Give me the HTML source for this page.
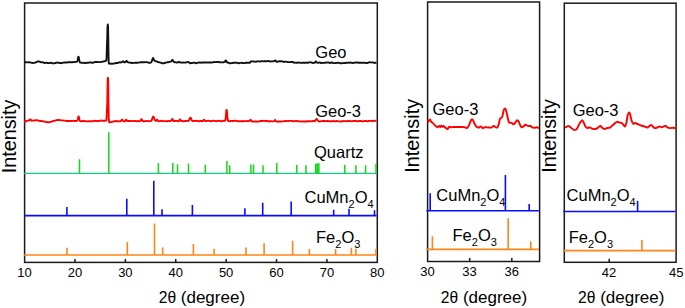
<!DOCTYPE html>
<html><head><meta charset="utf-8"><style>
html,body{margin:0;padding:0;background:#fff;width:685px;height:308px;overflow:hidden}
svg{display:block}
text{font-family:"Liberation Sans", sans-serif;fill:#000}
</style></head><body>
<svg width="685" height="308" viewBox="0 0 685 308">
<rect x="24.6" y="3.0" width="352.70" height="259.40" fill="none" stroke="#1a1a1a" stroke-width="1.5"/>
<path d="M74.99 262.4 V258.90 M125.37 262.4 V258.90 M175.76 262.4 V258.90 M226.14 262.4 V258.90 M276.53 262.4 V258.90 M326.91 262.4 V258.90" stroke="#1a1a1a" stroke-width="1.5"/>
<polyline points="24.00,61.59 24.25,61.65 24.50,61.77 24.75,61.91 25.00,62.05 25.25,62.18 25.50,62.27 25.75,62.25 26.00,62.21 26.25,62.23 26.50,62.31 26.75,62.37 27.00,62.38 27.25,62.37 27.50,62.38 27.75,62.35 28.00,62.29 28.25,62.25 28.50,62.26 28.75,62.30 29.00,62.31 29.25,62.27 29.50,62.25 29.75,62.32 30.00,62.46 30.25,62.58 30.50,62.62 30.75,62.60 31.00,62.59 31.25,62.64 31.50,62.68 31.75,62.72 32.00,62.83 32.25,62.95 32.50,63.01 32.75,62.98 33.00,62.88 33.25,62.86 33.50,62.89 33.75,62.91 34.00,62.86 34.25,62.78 34.50,62.71 34.75,62.68 35.00,62.67 35.25,62.64 35.50,62.55 35.75,62.44 36.00,62.36 36.25,62.25 36.50,62.10 36.75,61.93 37.00,61.76 37.25,61.61 37.50,61.52 37.75,61.53 38.00,61.50 38.25,61.41 38.50,61.35 38.75,61.37 39.00,61.44 39.25,61.53 39.50,61.61 39.75,61.72 40.00,61.87 40.25,62.02 40.50,62.09 40.75,62.15 41.00,62.25 41.25,62.33 41.50,62.37 41.75,62.32 42.00,62.25 42.25,62.22 42.50,62.23 42.75,62.25 43.00,62.32 43.25,62.41 43.50,62.51 43.75,62.63 44.00,62.81 44.25,62.96 44.50,63.00 44.75,62.99 45.00,62.93 45.25,62.87 45.50,62.81 45.75,62.76 46.00,62.69 46.25,62.63 46.50,62.66 46.75,62.75 47.00,62.84 47.25,62.92 47.50,62.99 47.75,63.03 48.00,63.02 48.25,62.99 48.50,63.00 48.75,63.06 49.00,63.12 49.25,63.16 49.50,63.14 49.75,63.08 50.00,63.01 50.25,62.93 50.50,62.84 50.75,62.77 51.00,62.75 51.25,62.75 51.50,62.82 51.75,62.98 52.00,63.13 52.25,63.22 52.50,63.27 52.75,63.32 53.00,63.36 53.25,63.40 53.50,63.40 53.75,63.34 54.00,63.29 54.25,63.27 54.50,63.24 54.75,63.21 55.00,63.17 55.25,63.12 55.50,63.02 55.75,62.89 56.00,62.80 56.25,62.75 56.50,62.67 56.75,62.57 57.00,62.56 57.25,62.63 57.50,62.70 57.75,62.69 58.00,62.62 58.25,62.59 58.50,62.64 58.75,62.72 59.00,62.80 59.25,62.91 59.50,63.05 59.75,63.08 60.00,63.01 60.25,62.94 60.50,62.97 60.75,63.04 61.00,63.10 61.25,63.14 61.50,63.22 61.75,63.24 62.00,63.13 62.25,62.96 62.50,62.82 62.75,62.72 63.00,62.63 63.25,62.59 63.50,62.57 63.75,62.54 64.00,62.51 64.25,62.48 64.50,62.46 64.75,62.45 65.00,62.50 65.25,62.55 65.50,62.54 65.75,62.48 66.00,62.45 66.25,62.51 66.50,62.61 66.75,62.62 67.00,62.51 67.25,62.38 67.50,62.30 67.75,62.30 68.00,62.31 68.25,62.29 68.50,62.28 68.75,62.29 69.00,62.27 69.25,62.21 69.50,62.18 69.75,62.18 70.00,62.16 70.25,62.17 70.50,62.20 70.75,62.25 71.00,62.27 71.25,62.24 71.50,62.20 71.75,62.20 72.00,62.26 72.25,62.30 72.50,62.27 72.75,62.18 73.00,62.13 73.25,62.11 73.50,62.08 73.75,62.04 74.00,62.08 74.25,62.14 74.50,62.10 74.75,61.98 75.00,61.88 75.25,61.86 75.50,61.88 75.75,61.89 76.00,61.86 76.25,61.82 76.50,61.78 76.75,61.76 77.00,61.62 77.25,61.27 77.50,60.53 77.75,59.38 78.00,58.03 78.25,57.00 78.50,56.67 78.75,57.21 79.00,58.48 79.25,59.96 79.50,61.21 79.75,62.04 80.00,62.50 80.25,62.65 80.50,62.63 80.75,62.63 81.00,62.67 81.25,62.71 81.50,62.74 81.75,62.82 82.00,62.87 82.25,62.86 82.50,62.87 82.75,62.86 83.00,62.80 83.25,62.72 83.50,62.68 83.75,62.72 84.00,62.82 84.25,62.93 84.50,63.03 84.75,63.12 85.00,63.17 85.25,63.13 85.50,63.05 85.75,63.01 86.00,62.98 86.25,62.94 86.50,62.88 86.75,62.81 87.00,62.77 87.25,62.75 87.50,62.74 87.75,62.73 88.00,62.70 88.25,62.68 88.50,62.66 88.75,62.66 89.00,62.62 89.25,62.57 89.50,62.56 89.75,62.54 90.00,62.45 90.25,62.34 90.50,62.30 90.75,62.37 91.00,62.49 91.25,62.61 91.50,62.70 91.75,62.77 92.00,62.78 92.25,62.80 92.50,62.80 92.75,62.75 93.00,62.65 93.25,62.57 93.50,62.53 93.75,62.50 94.00,62.44 94.25,62.34 94.50,62.22 94.75,62.09 95.00,61.98 95.25,61.90 95.50,61.88 95.75,61.94 96.00,62.01 96.25,62.04 96.50,62.06 96.75,62.07 97.00,62.04 97.25,61.96 97.50,61.94 97.75,61.98 98.00,62.02 98.25,62.07 98.50,62.12 98.75,62.15 99.00,62.14 99.25,62.13 99.50,62.11 99.75,62.10 100.00,62.08 100.25,62.06 100.50,62.01 100.75,61.94 101.00,61.91 101.25,61.89 101.50,61.86 101.75,61.85 102.00,61.85 102.25,61.85 102.50,61.79 102.75,61.68 103.00,61.55 103.25,61.45 103.50,61.40 103.75,61.37 104.00,61.31 104.25,61.24 104.50,61.22 104.75,61.15 105.00,61.08 105.25,61.00 105.50,60.95 105.75,60.89 106.00,60.76 106.25,60.52 106.50,58.97 106.75,52.42 107.00,44.08 107.25,37.21 107.50,26.85 107.75,24.52 108.00,25.91 108.25,35.61 108.50,55.12 108.75,62.85 109.00,63.64 109.25,63.56 109.50,63.55 109.75,63.60 110.00,63.66 110.25,63.68 110.50,63.72 110.75,63.73 111.00,63.68 111.25,63.60 111.50,63.57 111.75,63.65 112.00,63.77 112.25,63.81 112.50,63.71 112.75,63.59 113.00,63.55 113.25,63.58 113.50,63.61 113.75,63.60 114.00,63.59 114.25,63.58 114.50,63.52 114.75,63.43 115.00,63.34 115.25,63.23 115.50,63.10 115.75,63.03 116.00,62.98 116.25,62.94 116.50,62.92 116.75,62.95 117.00,62.98 117.25,62.98 117.50,63.00 117.75,62.99 118.00,62.88 118.25,62.69 118.50,62.53 118.75,62.47 119.00,62.47 119.25,62.45 119.50,62.37 119.75,62.27 120.00,62.26 120.25,62.37 120.50,62.47 120.75,62.46 121.00,62.35 121.25,62.28 121.50,62.28 121.75,62.25 122.00,62.10 122.25,61.85 122.50,61.59 122.75,61.36 123.00,61.28 123.25,61.42 123.50,61.71 123.75,62.02 124.00,62.25 124.25,62.38 124.50,62.43 124.75,62.40 125.00,62.33 125.25,62.18 125.50,61.96 125.75,61.65 126.00,61.30 126.25,61.03 126.50,60.91 126.75,61.00 127.00,61.31 127.25,61.70 127.50,62.03 127.75,62.20 128.00,62.26 128.25,62.28 128.50,62.34 128.75,62.43 129.00,62.48 129.25,62.54 129.50,62.58 129.75,62.63 130.00,62.63 130.25,62.63 130.50,62.66 130.75,62.68 131.00,62.71 131.25,62.77 131.50,62.91 131.75,63.00 132.00,63.00 132.25,62.98 132.50,62.99 132.75,62.96 133.00,62.91 133.25,62.88 133.50,62.87 133.75,62.86 134.00,62.85 134.25,62.87 134.50,62.89 134.75,62.86 135.00,62.80 135.25,62.75 135.50,62.74 135.75,62.72 136.00,62.70 136.25,62.68 136.50,62.67 136.75,62.68 137.00,62.69 137.25,62.70 137.50,62.71 137.75,62.69 138.00,62.64 138.25,62.62 138.50,62.64 138.75,62.64 139.00,62.57 139.25,62.49 139.50,62.44 139.75,62.42 140.00,62.41 140.25,62.40 140.50,62.34 140.75,62.26 141.00,62.24 141.25,62.27 141.50,62.30 141.75,62.31 142.00,62.30 142.25,62.30 142.50,62.31 142.75,62.32 143.00,62.33 143.25,62.32 143.50,62.29 143.75,62.24 144.00,62.22 144.25,62.23 144.50,62.20 144.75,62.14 145.00,62.10 145.25,62.10 145.50,62.10 145.75,62.11 146.00,62.12 146.25,62.15 146.50,62.17 146.75,62.20 147.00,62.23 147.25,62.31 147.50,62.39 147.75,62.45 148.00,62.50 148.25,62.57 148.50,62.65 148.75,62.70 149.00,62.74 149.25,62.78 149.50,62.82 149.75,62.86 150.00,62.86 150.25,62.81 150.50,62.72 150.75,62.56 151.00,62.39 151.25,62.18 151.50,61.84 151.75,61.35 152.00,60.67 152.25,59.84 152.50,58.96 152.75,58.29 153.00,58.01 153.25,58.17 153.50,58.65 153.75,59.27 154.00,59.90 154.25,60.39 154.50,60.69 154.75,60.84 155.00,60.90 155.25,61.03 155.50,61.14 155.75,61.22 156.00,61.31 156.25,61.39 156.50,61.45 156.75,61.52 157.00,61.61 157.25,61.69 157.50,61.79 157.75,61.94 158.00,62.03 158.25,62.07 158.50,62.14 158.75,62.25 159.00,62.35 159.25,62.39 159.50,62.38 159.75,62.39 160.00,62.47 160.25,62.55 160.50,62.62 160.75,62.70 161.00,62.81 161.25,62.89 161.50,62.99 161.75,63.12 162.00,63.23 162.25,63.18 162.50,63.14 162.75,63.19 163.00,63.29 163.25,63.37 163.50,63.37 163.75,63.33 164.00,63.25 164.25,63.11 164.50,62.94 164.75,62.82 165.00,62.81 165.25,62.77 165.50,62.72 165.75,62.69 166.00,62.66 166.25,62.60 166.50,62.49 166.75,62.38 167.00,62.32 167.25,62.32 167.50,62.32 167.75,62.30 168.00,62.28 168.25,62.24 168.50,62.16 168.75,62.09 169.00,62.01 169.25,61.94 169.50,61.87 169.75,61.79 170.00,61.72 170.25,61.67 170.50,61.62 170.75,61.56 171.00,61.46 171.25,61.34 171.50,61.06 171.75,60.66 172.00,60.19 172.25,59.84 172.50,59.82 172.75,60.16 173.00,60.67 173.25,61.15 173.50,61.49 173.75,61.70 174.00,61.86 174.25,62.02 174.50,62.15 174.75,62.26 175.00,62.37 175.25,62.39 175.50,62.34 175.75,62.29 176.00,62.34 176.25,62.47 176.50,62.60 176.75,62.65 177.00,62.67 177.25,62.63 177.50,62.52 177.75,62.33 178.00,62.16 178.25,62.04 178.50,61.98 178.75,61.96 179.00,61.97 179.25,62.02 179.50,62.13 179.75,62.31 180.00,62.47 180.25,62.52 180.50,62.45 180.75,62.39 181.00,62.44 181.25,62.56 181.50,62.63 181.75,62.63 182.00,62.61 182.25,62.60 182.50,62.59 182.75,62.58 183.00,62.58 183.25,62.55 183.50,62.51 183.75,62.53 184.00,62.61 184.25,62.65 184.50,62.64 184.75,62.62 185.00,62.60 185.25,62.53 185.50,62.42 185.75,62.39 186.00,62.45 186.25,62.44 186.50,62.37 186.75,62.29 187.00,62.21 187.25,62.11 187.50,61.97 187.75,61.83 188.00,61.90 188.25,62.03 188.50,62.17 188.75,62.30 189.00,62.43 189.25,62.59 189.50,62.81 189.75,63.05 190.00,63.24 190.25,63.24 190.50,63.24 190.75,63.21 191.00,63.12 191.25,63.04 191.50,63.02 191.75,63.05 192.00,63.05 192.25,63.01 192.50,62.94 192.75,62.88 193.00,62.79 193.25,62.69 193.50,62.62 193.75,62.59 194.00,62.58 194.25,62.60 194.50,62.66 194.75,62.74 195.00,62.90 195.25,63.09 195.50,63.22 195.75,63.23 196.00,63.21 196.25,63.17 196.50,63.03 196.75,62.88 197.00,62.81 197.25,62.83 197.50,62.86 197.75,62.83 198.00,62.75 198.25,62.67 198.50,62.59 198.75,62.50 199.00,62.44 199.25,62.44 199.50,62.48 199.75,62.52 200.00,62.55 200.25,62.58 200.50,62.62 200.75,62.68 201.00,62.73 201.25,62.70 201.50,62.60 201.75,62.53 202.00,62.52 202.25,62.54 202.50,62.54 202.75,62.55 203.00,62.56 203.25,62.54 203.50,62.48 203.75,62.40 204.00,62.38 204.25,62.43 204.50,62.49 204.75,62.49 205.00,62.48 205.25,62.47 205.50,62.47 205.75,62.49 206.00,62.50 206.25,62.46 206.50,62.40 206.75,62.39 207.00,62.42 207.25,62.45 207.50,62.46 207.75,62.48 208.00,62.51 208.25,62.51 208.50,62.48 208.75,62.46 209.00,62.48 209.25,62.52 209.50,62.53 209.75,62.50 210.00,62.45 210.25,62.42 210.50,62.45 210.75,62.50 211.00,62.50 211.25,62.50 211.50,62.49 211.75,62.46 212.00,62.43 212.25,62.41 212.50,62.39 212.75,62.40 213.00,62.38 213.25,62.30 213.50,62.17 213.75,62.08 214.00,62.01 214.25,61.96 214.50,61.95 214.75,62.00 215.00,62.05 215.25,62.08 215.50,62.09 215.75,62.10 216.00,62.10 216.25,62.07 216.50,62.04 216.75,62.01 217.00,61.98 217.25,61.95 217.50,61.93 217.75,61.91 218.00,61.90 218.25,61.92 218.50,61.95 218.75,62.02 219.00,62.15 219.25,62.25 219.50,62.23 219.75,62.15 220.00,62.12 220.25,62.20 220.50,62.31 220.75,62.37 221.00,62.37 221.25,62.35 221.50,62.34 221.75,62.37 222.00,62.40 222.25,62.38 222.50,62.34 222.75,62.31 223.00,62.31 223.25,62.33 223.50,62.34 223.75,62.27 224.00,62.14 224.25,62.09 224.50,62.04 224.75,61.86 225.00,61.50 225.25,61.01 225.50,60.58 225.75,60.37 226.00,60.50 226.25,60.94 226.50,61.53 226.75,62.03 227.00,62.35 227.25,62.48 227.50,62.51 227.75,62.52 228.00,62.57 228.25,62.66 228.50,62.77 228.75,62.84 229.00,62.92 229.25,63.05 229.50,63.21 229.75,63.31 230.00,63.31 230.25,63.30 230.50,63.27 230.75,63.23 231.00,63.19 231.25,63.17 231.50,63.17 231.75,63.14 232.00,63.07 232.25,63.02 232.50,62.98 232.75,62.91 233.00,62.85 233.25,62.84 233.50,62.82 233.75,62.78 234.00,62.76 234.25,62.76 234.50,62.77 234.75,62.77 235.00,62.75 235.25,62.71 235.50,62.70 235.75,62.68 236.00,62.66 236.25,62.65 236.50,62.62 236.75,62.63 237.00,62.72 237.25,62.86 237.50,62.99 237.75,63.12 238.00,63.23 238.25,63.26 238.50,63.26 238.75,63.23 239.00,63.16 239.25,63.08 239.50,63.01 239.75,62.95 240.00,62.91 240.25,62.87 240.50,62.87 240.75,62.91 241.00,62.92 241.25,62.86 241.50,62.78 241.75,62.77 242.00,62.84 242.25,62.95 242.50,63.04 242.75,63.06 243.00,63.07 243.25,63.11 243.50,63.14 243.75,63.14 244.00,63.12 244.25,63.10 244.50,63.08 244.75,63.00 245.00,62.90 245.25,62.85 245.50,62.81 245.75,62.75 246.00,62.71 246.25,62.72 246.50,62.75 246.75,62.74 247.00,62.73 247.25,62.73 247.50,62.74 247.75,62.73 248.00,62.73 248.25,62.71 248.50,62.67 248.75,62.67 249.00,62.75 249.25,62.85 249.50,62.92 249.75,62.89 250.00,62.53 250.25,62.14 250.50,61.72 250.75,61.51 251.00,61.47 251.25,61.47 251.50,61.46 251.75,61.42 252.00,61.38 252.25,61.37 252.50,61.39 252.75,61.42 253.00,61.44 253.25,61.47 253.50,61.48 253.75,61.49 254.00,61.52 254.25,61.56 254.50,61.61 254.75,61.63 255.00,61.65 255.25,61.68 255.50,61.69 255.75,61.67 256.00,61.62 256.25,61.56 256.50,61.52 256.75,61.49 257.00,61.49 257.25,61.47 257.50,61.45 257.75,61.42 258.00,61.39 258.25,61.34 258.50,61.31 258.75,61.32 259.00,61.36 259.25,61.38 259.50,61.40 259.75,61.42 260.00,61.44 260.25,61.47 260.50,61.49 260.75,61.44 261.00,61.36 261.25,61.27 261.50,61.20 261.75,61.16 262.00,61.14 262.25,61.15 262.50,61.18 262.75,61.22 263.00,61.28 263.25,61.33 263.50,61.36 263.75,61.34 264.00,61.32 264.25,61.31 264.50,61.28 264.75,61.26 265.00,61.26 265.25,61.25 265.50,61.24 265.75,61.25 266.00,61.27 266.25,61.26 266.50,61.24 266.75,61.22 267.00,61.21 267.25,61.16 267.50,61.12 267.75,61.09 268.00,61.03 268.25,60.98 268.50,61.00 268.75,61.07 269.00,61.14 269.25,61.19 269.50,61.25 269.75,61.35 270.00,61.46 270.25,61.55 270.50,61.58 270.75,61.53 271.00,61.45 271.25,61.41 271.50,61.41 271.75,61.41 272.00,61.39 272.25,61.42 272.50,61.42 272.75,61.37 273.00,61.30 273.25,61.24 273.50,61.20 273.75,61.16 274.00,61.13 274.25,61.11 274.50,61.05 274.75,60.90 275.00,60.67 275.25,60.51 275.50,60.55 275.75,60.76 276.00,61.03 276.25,61.31 276.50,61.57 276.75,61.72 277.00,61.78 277.25,61.79 277.50,61.77 277.75,61.67 278.00,61.54 278.25,61.43 278.50,61.35 278.75,61.30 279.00,61.28 279.25,61.27 279.50,61.27 279.75,61.25 280.00,61.21 280.25,61.20 280.50,61.21 280.75,61.22 281.00,61.25 281.25,61.35 281.50,61.45 281.75,61.47 282.00,61.42 282.25,61.39 282.50,61.39 282.75,61.42 283.00,61.48 283.25,61.63 283.50,61.82 283.75,61.94 284.00,61.96 284.25,61.93 284.50,61.88 284.75,61.80 285.00,61.71 285.25,61.64 285.50,61.60 285.75,61.60 286.00,61.63 286.25,61.72 286.50,61.82 286.75,61.87 287.00,61.89 287.25,61.93 287.50,62.01 287.75,62.08 288.00,62.10 288.25,62.11 288.50,62.12 288.75,62.13 289.00,62.15 289.25,62.17 289.50,62.15 289.75,62.07 290.00,62.03 290.25,62.05 290.50,62.09 290.75,62.12 291.00,62.10 291.25,62.05 291.50,62.03 291.75,62.03 292.00,62.04 292.25,62.01 292.50,61.96 292.75,61.96 293.00,62.07 293.25,62.26 293.50,62.44 293.75,62.58 294.00,62.70 294.25,62.76 294.50,62.73 294.75,62.67 295.00,62.64 295.25,62.62 295.50,62.61 295.75,62.63 296.00,62.73 296.25,62.81 296.50,62.79 296.75,62.74 297.00,62.69 297.25,62.69 297.50,62.70 297.75,62.71 298.00,62.64 298.25,62.53 298.50,62.49 298.75,62.56 299.00,62.64 299.25,62.64 299.50,62.63 299.75,62.65 300.00,62.71 300.25,62.73 300.50,62.77 300.75,62.82 301.00,62.86 301.25,62.86 301.50,62.87 301.75,62.87 302.00,62.84 302.25,62.80 302.50,62.77 302.75,62.73 303.00,62.66 303.25,62.62 303.50,62.66 303.75,62.74 304.00,62.79 304.25,62.77 304.50,62.72 304.75,62.68 305.00,62.73 305.25,62.78 305.50,62.76 305.75,62.66 306.00,62.58 306.25,62.57 306.50,62.64 306.75,62.72 307.00,62.75 307.25,62.77 307.50,62.79 307.75,62.80 308.00,62.79 308.25,62.74 308.50,62.63 308.75,62.50 309.00,62.40 309.25,62.36 309.50,62.34 309.75,62.33 310.00,62.30 310.25,62.29 310.50,62.32 310.75,62.35 311.00,62.37 311.25,62.42 311.50,62.51 311.75,62.60 312.00,62.65 312.25,62.71 312.50,62.81 312.75,62.92 313.00,63.00 313.25,62.99 313.50,62.92 313.75,62.86 314.00,62.86 314.25,62.88 314.50,62.84 314.75,62.71 315.00,62.47 315.25,62.13 315.50,61.77 315.75,61.51 316.00,61.48 316.25,61.62 316.50,61.87 316.75,62.16 317.00,62.44 317.25,62.64 317.50,62.77 317.75,62.87 318.00,62.92 318.25,62.89 318.50,62.80 318.75,62.71 319.00,62.64 319.25,62.57 319.50,62.51 319.75,62.47 320.00,62.48 320.25,62.55 320.50,62.71 320.75,62.86 321.00,62.96 321.25,63.07 321.50,63.12 321.75,63.06 322.00,62.96 322.25,62.90 322.50,62.86 322.75,62.81 323.00,62.80 323.25,62.87 323.50,62.93 323.75,62.90 324.00,62.87 324.25,62.84 324.50,62.80 324.75,62.80 325.00,62.80 325.25,62.77 325.50,62.71 325.75,62.67 326.00,62.62 326.25,62.57 326.50,62.56 326.75,62.61 327.00,62.65 327.25,62.61 327.50,62.48 327.75,62.38 328.00,62.38 328.25,62.45 328.50,62.51 328.75,62.55 329.00,62.60 329.25,62.71 329.50,62.86 329.75,62.99 330.00,63.04 330.25,63.02 330.50,62.94 330.75,62.83 331.00,62.69 331.25,62.56 331.50,62.47 331.75,62.43 332.00,62.46 332.25,62.56 332.50,62.68 332.75,62.81 333.00,62.97 333.25,63.11 333.50,63.13 333.75,63.11 334.00,63.09 334.25,63.11 334.50,63.15 334.75,63.18 335.00,63.17 335.25,63.13 335.50,63.07 335.75,63.06 336.00,63.06 336.25,63.03 336.50,62.95 336.75,62.89 337.00,62.87 337.25,62.86 337.50,62.84 337.75,62.79 338.00,62.78 338.25,62.77 338.50,62.76 338.75,62.80 339.00,62.88 339.25,62.92 339.50,62.91 339.75,62.96 340.00,63.10 340.25,63.21 340.50,63.23 340.75,63.25 341.00,63.27 341.25,63.27 341.50,63.22 341.75,63.18 342.00,63.18 342.25,63.17 342.50,63.14 342.75,63.11 343.00,63.09 343.25,63.07 343.50,63.08 343.75,63.11 344.00,63.10 344.25,63.02 344.50,62.93 344.75,62.91 345.00,62.94 345.25,62.97 345.50,62.96 345.75,62.93 346.00,62.91 346.25,62.84 346.50,62.75 346.75,62.70 347.00,62.77 347.25,62.86 347.50,62.86 347.75,62.76 348.00,62.65 348.25,62.64 348.50,62.65 348.75,62.66 349.00,62.68 349.25,62.73 349.50,62.74 349.75,62.67 350.00,62.58 350.25,62.54 350.50,62.57 350.75,62.64 351.00,62.70 351.25,62.74 351.50,62.78 351.75,62.85 352.00,62.92 352.25,62.95 352.50,62.94 352.75,62.96 353.00,62.95 353.25,62.92 353.50,62.90 353.75,62.88 354.00,62.79 354.25,62.66 354.50,62.61 354.75,62.57 355.00,62.54 355.25,62.53 355.50,62.62 355.75,62.68 356.00,62.64 356.25,62.52 356.50,62.45 356.75,62.45 357.00,62.47 357.25,62.48 357.50,62.50 357.75,62.54 358.00,62.62 358.25,62.70 358.50,62.77 358.75,62.81 359.00,62.81 359.25,62.78 359.50,62.76 359.75,62.78 360.00,62.76 360.25,62.72 360.50,62.71 360.75,62.71 361.00,62.71 361.25,62.73 361.50,62.76 361.75,62.80 362.00,62.83 362.25,62.84 362.50,62.81 362.75,62.77 363.00,62.73 363.25,62.66 363.50,62.61 363.75,62.61 364.00,62.63 364.25,62.66 364.50,62.74 364.75,62.85 365.00,62.94 365.25,62.97 365.50,62.99 365.75,62.98 366.00,62.93 366.25,62.89 366.50,62.88 366.75,62.86 367.00,62.84 367.25,62.90 367.50,63.00 367.75,62.98 368.00,62.83 368.25,62.65 368.50,62.50 368.75,62.36 369.00,62.27 369.25,62.27 369.50,62.31 369.75,62.35 370.00,62.38 370.25,62.39 370.50,62.41 370.75,62.41 371.00,62.40 371.25,62.41 371.50,62.38 371.75,62.34 372.00,62.34 372.25,62.38 372.50,62.41 372.75,62.44 373.00,62.51 373.25,62.61 373.50,62.69 373.75,62.75 374.00,62.80 374.25,62.86 374.50,62.93 374.75,62.93 375.00,62.85 375.25,62.76 375.50,62.72 375.75,62.73 376.00,62.74 376.25,62.71 376.50,62.66" fill="none" stroke="#111" stroke-width="1.9" stroke-linejoin="round"/>
<polyline points="24.00,121.47 24.25,121.50 24.50,121.54 24.75,121.54 25.00,121.51 25.25,121.47 25.50,121.43 25.75,121.41 26.00,121.34 26.25,121.21 26.50,121.04 26.75,120.87 27.00,120.75 27.25,120.70 27.50,120.68 27.75,120.61 28.00,120.53 28.25,120.48 28.50,120.47 28.75,120.45 29.00,120.41 29.25,120.32 29.50,120.15 29.75,119.87 30.00,119.55 30.25,119.34 30.50,119.33 30.75,119.56 31.00,119.94 31.25,120.34 31.50,120.61 31.75,120.70 32.00,120.67 32.25,120.60 32.50,120.57 32.75,120.60 33.00,120.62 33.25,120.60 33.50,120.56 33.75,120.53 34.00,120.51 34.25,120.51 34.50,120.48 34.75,120.45 35.00,120.43 35.25,120.38 35.50,120.30 35.75,120.23 36.00,120.20 36.25,120.19 36.50,120.18 36.75,120.21 37.00,120.23 37.25,120.31 37.50,120.37 37.75,120.42 38.00,120.46 38.25,120.55 38.50,120.68 38.75,120.76 39.00,120.79 39.25,120.81 39.50,120.85 39.75,120.93 40.00,121.00 40.25,121.04 40.50,121.05 40.75,121.08 41.00,121.09 41.25,121.05 41.50,121.02 41.75,121.05 42.00,121.11 42.25,121.13 42.50,121.15 42.75,121.20 43.00,121.26 43.25,121.33 43.50,121.40 43.75,121.48 44.00,121.53 44.25,121.58 44.50,121.62 44.75,121.65 45.00,121.68 45.25,121.73 45.50,121.78 45.75,121.83 46.00,121.90 46.25,121.98 46.50,122.06 46.75,122.09 47.00,122.13 47.25,122.22 47.50,122.28 47.75,122.27 48.00,122.22 48.25,122.19 48.50,122.17 48.75,122.18 49.00,122.22 49.25,122.21 49.50,122.16 49.75,122.09 50.00,122.03 50.25,121.99 50.50,121.94 50.75,121.89 51.00,121.82 51.25,121.76 51.50,121.67 51.75,121.52 52.00,121.39 52.25,121.28 52.50,121.18 52.75,121.10 53.00,121.06 53.25,121.03 53.50,120.97 53.75,120.89 54.00,120.80 54.25,120.74 54.50,120.70 54.75,120.66 55.00,120.61 55.25,120.57 55.50,120.51 55.75,120.45 56.00,120.41 56.25,120.36 56.50,120.28 56.75,120.17 57.00,120.09 57.25,120.03 57.50,120.03 57.75,120.01 58.00,119.94 58.25,119.90 58.50,119.93 58.75,119.97 59.00,120.00 59.25,120.06 59.50,120.14 59.75,120.18 60.00,120.15 60.25,120.13 60.50,120.18 60.75,120.28 61.00,120.37 61.25,120.41 61.50,120.40 61.75,120.38 62.00,120.38 62.25,120.38 62.50,120.38 62.75,120.43 63.00,120.52 63.25,120.57 63.50,120.60 63.75,120.64 64.00,120.66 64.25,120.65 64.50,120.64 64.75,120.65 65.00,120.62 65.25,120.64 65.50,120.72 65.75,120.82 66.00,120.91 66.25,120.97 66.50,121.00 66.75,121.00 67.00,121.02 67.25,121.04 67.50,121.02 67.75,120.99 68.00,120.98 68.25,120.98 68.50,120.98 68.75,120.98 69.00,121.00 69.25,121.03 69.50,121.06 69.75,121.05 70.00,121.02 70.25,121.00 70.50,121.02 70.75,121.04 71.00,121.01 71.25,121.01 71.50,121.03 71.75,121.03 72.00,120.99 72.25,120.95 72.50,120.90 72.75,120.80 73.00,120.74 73.25,120.76 73.50,120.81 73.75,120.85 74.00,120.90 74.25,120.96 74.50,121.00 74.75,120.98 75.00,120.95 75.25,120.95 75.50,121.00 75.75,121.03 76.00,120.99 76.25,120.92 76.50,120.87 76.75,120.85 77.00,120.80 77.25,120.60 77.50,120.11 77.75,119.26 78.00,118.15 78.25,117.09 78.50,116.47 78.75,116.58 79.00,117.42 79.25,118.64 79.50,119.81 79.75,120.63 80.00,121.10 80.25,121.27 80.50,121.28 80.75,121.25 81.00,121.24 81.25,121.23 81.50,121.20 81.75,121.15 82.00,121.10 82.25,121.07 82.50,121.07 82.75,121.05 83.00,121.00 83.25,120.99 83.50,120.99 83.75,120.97 84.00,120.96 84.25,121.02 84.50,121.14 84.75,121.26 85.00,121.32 85.25,121.34 85.50,121.33 85.75,121.32 86.00,121.30 86.25,121.28 86.50,121.28 86.75,121.30 87.00,121.32 87.25,121.33 87.50,121.35 87.75,121.35 88.00,121.32 88.25,121.29 88.50,121.27 88.75,121.24 89.00,121.22 89.25,121.24 89.50,121.31 89.75,121.36 90.00,121.34 90.25,121.28 90.50,121.23 90.75,121.23 91.00,121.25 91.25,121.24 91.50,121.21 91.75,121.18 92.00,121.17 92.25,121.17 92.50,121.17 92.75,121.17 93.00,121.18 93.25,121.18 93.50,121.15 93.75,121.07 94.00,121.01 94.25,120.98 94.50,120.96 94.75,120.91 95.00,120.84 95.25,120.78 95.50,120.76 95.75,120.82 96.00,120.90 96.25,120.99 96.50,121.09 96.75,121.17 97.00,121.19 97.25,121.15 97.50,121.12 97.75,121.07 98.00,120.99 98.25,120.96 98.50,120.98 98.75,121.02 99.00,121.01 99.25,120.96 99.50,120.88 99.75,120.78 100.00,120.69 100.25,120.62 100.50,120.58 100.75,120.56 101.00,120.60 101.25,120.67 101.50,120.76 101.75,120.83 102.00,120.80 102.25,120.73 102.50,120.71 102.75,120.78 103.00,120.86 103.25,120.85 103.50,120.81 103.75,120.79 104.00,120.77 104.25,120.74 104.50,120.71 104.75,120.69 105.00,120.69 105.25,120.68 105.50,120.66 105.75,120.66 106.00,120.65 106.25,120.64 106.50,119.37 106.75,114.34 107.00,107.86 107.25,103.84 107.50,90.13 107.75,78.24 108.00,77.87 108.25,82.86 108.50,105.03 108.75,117.88 109.00,121.58 109.25,122.31 109.50,122.36 109.75,122.34 110.00,122.33 110.25,122.32 110.50,122.26 110.75,122.19 111.00,122.14 111.25,122.11 111.50,122.04 111.75,121.89 112.00,121.72 112.25,121.61 112.50,121.59 112.75,121.61 113.00,121.60 113.25,121.57 113.50,121.55 113.75,121.52 114.00,121.47 114.25,121.40 114.50,121.33 114.75,121.25 115.00,121.16 115.25,121.09 115.50,121.03 115.75,121.00 116.00,120.99 116.25,121.01 116.50,121.07 116.75,121.21 117.00,121.35 117.25,121.38 117.50,121.31 117.75,121.24 118.00,121.23 118.25,121.23 118.50,121.23 118.75,121.26 119.00,121.31 119.25,121.33 119.50,121.34 119.75,121.33 120.00,121.28 120.25,121.21 120.50,121.13 120.75,121.07 121.00,120.98 121.25,120.77 121.50,120.40 121.75,119.94 122.00,119.64 122.25,119.70 122.50,120.07 122.75,120.53 123.00,120.87 123.25,121.07 123.50,121.18 123.75,121.24 124.00,121.27 124.25,121.29 124.50,121.31 124.75,121.30 125.00,121.19 125.25,120.95 125.50,120.58 125.75,120.13 126.00,119.74 126.25,119.63 126.50,119.90 126.75,120.38 127.00,120.76 127.25,120.93 127.50,120.97 127.75,121.01 128.00,121.06 128.25,121.08 128.50,121.05 128.75,121.02 129.00,120.99 129.25,120.95 129.50,120.91 129.75,120.90 130.00,120.93 130.25,120.97 130.50,120.99 130.75,121.01 131.00,121.03 131.25,121.04 131.50,121.07 131.75,121.12 132.00,121.14 132.25,121.11 132.50,121.10 132.75,121.12 133.00,121.11 133.25,121.07 133.50,121.02 133.75,120.97 134.00,120.92 134.25,120.87 134.50,120.86 134.75,120.89 135.00,120.93 135.25,121.01 135.50,121.10 135.75,121.15 136.00,121.19 136.25,121.24 136.50,121.27 136.75,121.23 137.00,121.18 137.25,121.14 137.50,121.07 137.75,120.97 138.00,120.91 138.25,120.95 138.50,121.03 138.75,121.13 139.00,121.20 139.25,121.25 139.50,121.27 139.75,121.24 140.00,121.13 140.25,120.89 140.50,120.55 140.75,120.10 141.00,119.61 141.25,119.22 141.50,119.15 141.75,119.46 142.00,120.00 142.25,120.55 142.50,120.94 142.75,121.17 143.00,121.28 143.25,121.31 143.50,121.30 143.75,121.28 144.00,121.28 144.25,121.29 144.50,121.26 144.75,121.18 145.00,121.09 145.25,121.08 145.50,121.13 145.75,121.16 146.00,121.12 146.25,121.05 146.50,121.02 146.75,121.04 147.00,121.07 147.25,121.09 147.50,121.10 147.75,121.12 148.00,121.12 148.25,121.11 148.50,121.11 148.75,121.11 149.00,121.10 149.25,121.10 149.50,121.13 149.75,121.18 150.00,121.20 150.25,121.14 150.50,121.04 150.75,120.95 151.00,120.90 151.25,120.79 151.50,120.53 151.75,120.09 152.00,119.49 152.25,118.78 152.50,118.02 152.75,117.32 153.00,116.80 153.25,116.59 153.50,116.71 153.75,117.10 154.00,117.72 154.25,118.43 154.50,119.12 154.75,119.70 155.00,120.15 155.25,120.46 155.50,120.66 155.75,120.78 156.00,120.81 156.25,120.70 156.50,120.43 156.75,120.03 157.00,119.69 157.25,119.61 157.50,119.88 157.75,120.36 158.00,120.81 158.25,121.08 158.50,121.20 158.75,121.28 159.00,121.31 159.25,121.26 159.50,121.14 159.75,121.04 160.00,121.06 160.25,121.11 160.50,121.11 160.75,121.01 161.00,120.89 161.25,120.81 161.50,120.76 161.75,120.75 162.00,120.78 162.25,120.85 162.50,120.94 162.75,121.03 163.00,121.09 163.25,121.12 163.50,121.15 163.75,121.18 164.00,121.20 164.25,121.17 164.50,121.12 164.75,121.10 165.00,121.12 165.25,121.15 165.50,121.16 165.75,121.17 166.00,121.18 166.25,121.21 166.50,121.29 166.75,121.35 167.00,121.34 167.25,121.28 167.50,121.20 167.75,121.07 168.00,120.94 168.25,120.85 168.50,120.84 168.75,120.88 169.00,120.94 169.25,121.03 169.50,121.13 169.75,121.19 170.00,121.17 170.25,121.13 170.50,121.08 170.75,120.98 171.00,120.83 171.25,120.61 171.50,120.25 171.75,119.72 172.00,119.19 172.25,118.94 172.50,119.13 172.75,119.72 173.00,120.36 173.25,120.80 173.50,121.00 173.75,121.05 174.00,121.04 174.25,121.00 174.50,120.95 174.75,120.93 175.00,120.94 175.25,120.94 175.50,120.89 175.75,120.83 176.00,120.82 176.25,120.86 176.50,120.91 176.75,120.91 177.00,120.89 177.25,120.90 177.50,120.94 177.75,121.00 178.00,121.07 178.25,121.16 178.50,121.24 178.75,121.18 179.00,120.91 179.25,120.41 179.50,119.83 179.75,119.41 180.00,119.34 180.25,119.61 180.50,120.08 180.75,120.51 181.00,120.77 181.25,120.88 181.50,120.94 181.75,121.00 182.00,121.05 182.25,121.06 182.50,121.10 182.75,121.17 183.00,121.21 183.25,121.24 183.50,121.25 183.75,121.26 184.00,121.25 184.25,121.20 184.50,121.14 184.75,121.07 185.00,121.01 185.25,120.96 185.50,120.95 185.75,120.95 186.00,120.94 186.25,120.92 186.50,120.91 186.75,120.93 187.00,120.95 187.25,120.93 187.50,120.88 187.75,120.87 188.00,120.92 188.25,120.94 188.50,120.87 188.75,120.66 189.00,120.29 189.25,119.78 189.50,119.15 189.75,118.50 190.00,117.98 190.25,117.66 190.50,117.61 190.75,117.84 191.00,118.27 191.25,118.83 191.50,119.47 191.75,120.10 192.00,120.58 192.25,120.85 192.50,120.96 192.75,120.99 193.00,120.98 193.25,120.94 193.50,120.88 193.75,120.86 194.00,120.88 194.25,120.88 194.50,120.84 194.75,120.83 195.00,120.90 195.25,121.03 195.50,121.10 195.75,121.06 196.00,120.96 196.25,120.91 196.50,120.88 196.75,120.84 197.00,120.82 197.25,120.84 197.50,120.87 197.75,120.90 198.00,120.95 198.25,121.02 198.50,121.11 198.75,121.22 199.00,121.28 199.25,121.27 199.50,121.23 199.75,121.16 200.00,121.07 200.25,120.99 200.50,120.92 200.75,120.86 201.00,120.85 201.25,120.92 201.50,121.03 201.75,121.15 202.00,121.24 202.25,121.27 202.50,121.24 202.75,121.15 203.00,120.96 203.25,120.64 203.50,120.24 203.75,119.92 204.00,119.81 204.25,119.92 204.50,120.18 204.75,120.50 205.00,120.80 205.25,121.03 205.50,121.14 205.75,121.16 206.00,121.14 206.25,121.11 206.50,121.05 206.75,120.97 207.00,120.93 207.25,120.91 207.50,120.88 207.75,120.80 208.00,120.73 208.25,120.75 208.50,120.79 208.75,120.82 209.00,120.84 209.25,120.86 209.50,120.88 209.75,120.93 210.00,121.00 210.25,121.07 210.50,121.15 210.75,121.22 211.00,121.24 211.25,121.20 211.50,121.13 211.75,121.05 212.00,120.97 212.25,120.90 212.50,120.84 212.75,120.82 213.00,120.81 213.25,120.81 213.50,120.81 213.75,120.82 214.00,120.85 214.25,120.89 214.50,120.90 214.75,120.90 215.00,120.93 215.25,120.99 215.50,121.06 215.75,121.12 216.00,121.16 216.25,121.21 216.50,121.21 216.75,121.13 217.00,121.01 217.25,120.95 217.50,120.92 217.75,120.91 218.00,120.92 218.25,120.95 218.50,120.98 218.75,120.93 219.00,120.85 219.25,120.78 219.50,120.78 219.75,120.85 220.00,120.96 220.25,121.03 220.50,121.09 220.75,121.17 221.00,121.28 221.25,121.34 221.50,121.31 221.75,121.26 222.00,121.18 222.25,121.07 222.50,120.92 222.75,120.82 223.00,120.82 223.25,120.86 223.50,120.88 223.75,120.85 224.00,120.82 224.25,120.80 224.50,120.77 224.75,120.72 225.00,120.61 225.25,120.31 225.50,119.44 225.75,117.57 226.00,114.73 226.25,111.70 226.50,109.82 226.75,110.08 227.00,112.33 227.25,115.43 227.50,118.13 227.75,119.85 228.00,120.67 228.25,120.96 228.50,121.06 228.75,121.15 229.00,121.22 229.25,121.24 229.50,121.22 229.75,121.20 230.00,121.17 230.25,121.11 230.50,121.03 230.75,120.94 231.00,120.87 231.25,120.82 231.50,120.85 231.75,120.91 232.00,120.94 232.25,120.97 232.50,121.00 232.75,121.02 233.00,121.02 233.25,121.00 233.50,120.96 233.75,120.89 234.00,120.82 234.25,120.78 234.50,120.75 234.75,120.73 235.00,120.75 235.25,120.79 235.50,120.84 235.75,120.85 236.00,120.85 236.25,120.89 236.50,120.91 236.75,120.92 237.00,120.99 237.25,121.12 237.50,121.22 237.75,121.20 238.00,121.13 238.25,121.11 238.50,121.17 238.75,121.25 239.00,121.26 239.25,121.23 239.50,121.21 239.75,121.21 240.00,121.23 240.25,121.26 240.50,121.24 240.75,121.17 241.00,121.14 241.25,121.17 241.50,121.21 241.75,121.22 242.00,121.24 242.25,121.28 242.50,121.26 242.75,121.17 243.00,121.08 243.25,121.07 243.50,121.08 243.75,121.09 244.00,121.12 244.25,121.16 244.50,121.18 244.75,121.18 245.00,121.17 245.25,121.15 245.50,121.14 245.75,121.11 246.00,121.10 246.25,121.13 246.50,121.16 246.75,121.15 247.00,121.08 247.25,121.01 247.50,121.02 247.75,121.08 248.00,121.11 248.25,121.07 248.50,121.03 248.75,121.00 249.00,120.92 249.25,120.80 249.50,120.69 249.75,120.56 250.00,120.33 250.25,120.02 250.50,119.80 250.75,119.87 251.00,120.26 251.25,120.75 251.50,121.13 251.75,121.36 252.00,121.47 252.25,121.52 252.50,121.50 252.75,121.46 253.00,121.46 253.25,121.51 253.50,121.59 253.75,121.62 254.00,121.61 254.25,121.52 254.50,121.48 254.75,121.44 255.00,121.41 255.25,121.43 255.50,121.50 255.75,121.54 256.00,121.56 256.25,121.57 256.50,121.58 256.75,121.55 257.00,121.51 257.25,121.51 257.50,121.55 257.75,121.60 258.00,121.64 258.25,121.68 258.50,121.70 258.75,121.62 259.00,121.47 259.25,121.33 259.50,121.24 259.75,121.16 260.00,121.07 260.25,120.98 260.50,120.93 260.75,120.94 261.00,120.97 261.25,121.00 261.50,121.04 261.75,121.06 262.00,121.05 262.25,121.03 262.50,121.00 262.75,120.95 263.00,120.89 263.25,120.83 263.50,120.79 263.75,120.78 264.00,120.78 264.25,120.81 264.50,120.86 264.75,120.90 265.00,120.94 265.25,120.98 265.50,121.01 265.75,121.02 266.00,121.02 266.25,120.99 266.50,120.96 266.75,120.94 267.00,120.93 267.25,120.93 267.50,120.99 267.75,121.09 268.00,121.18 268.25,121.28 268.50,121.39 268.75,121.49 269.00,121.51 269.25,121.42 269.50,121.27 269.75,121.16 270.00,121.09 270.25,121.03 270.50,121.03 270.75,121.12 271.00,121.23 271.25,121.29 271.50,121.33 271.75,121.37 272.00,121.39 272.25,121.36 272.50,121.34 272.75,121.35 273.00,121.36 273.25,121.35 273.50,121.33 273.75,121.30 274.00,121.23 274.25,121.06 274.50,120.74 274.75,120.35 275.00,120.07 275.25,120.07 275.50,120.33 275.75,120.70 276.00,121.03 276.25,121.28 276.50,121.47 276.75,121.59 277.00,121.66 277.25,121.70 277.50,121.70 277.75,121.66 278.00,121.60 278.25,121.55 278.50,121.51 278.75,121.47 279.00,121.46 279.25,121.46 279.50,121.45 279.75,121.48 280.00,121.54 280.25,121.56 280.50,121.58 280.75,121.62 281.00,121.63 281.25,121.52 281.50,121.42 281.75,121.39 282.00,121.41 282.25,121.41 282.50,121.38 282.75,121.36 283.00,121.34 283.25,121.33 283.50,121.31 283.75,121.29 284.00,121.22 284.25,121.12 284.50,121.08 284.75,121.09 285.00,121.10 285.25,121.06 285.50,120.99 285.75,120.93 286.00,120.91 286.25,120.92 286.50,120.95 286.75,121.02 287.00,121.09 287.25,121.13 287.50,121.12 287.75,121.10 288.00,121.06 288.25,121.01 288.50,120.96 288.75,120.92 289.00,120.89 289.25,120.87 289.50,120.86 289.75,120.87 290.00,120.90 290.25,120.92 290.50,120.91 290.75,120.91 291.00,120.85 291.25,120.83 291.50,120.85 291.75,120.93 292.00,121.02 292.25,121.05 292.50,121.07 292.75,121.10 293.00,121.13 293.25,121.17 293.50,121.20 293.75,121.22 294.00,121.22 294.25,121.24 294.50,121.20 294.75,121.11 295.00,121.03 295.25,120.97 295.50,120.92 295.75,120.88 296.00,120.86 296.25,120.89 296.50,120.96 296.75,121.06 297.00,121.15 297.25,121.19 297.50,121.23 297.75,121.25 298.00,121.24 298.25,121.21 298.50,121.21 298.75,121.28 299.00,121.35 299.25,121.35 299.50,121.35 299.75,121.37 300.00,121.40 300.25,121.43 300.50,121.47 300.75,121.48 301.00,121.45 301.25,121.44 301.50,121.42 301.75,121.41 302.00,121.41 302.25,121.40 302.50,121.39 302.75,121.41 303.00,121.48 303.25,121.54 303.50,121.55 303.75,121.56 304.00,121.57 304.25,121.56 304.50,121.52 304.75,121.50 305.00,121.54 305.25,121.59 305.50,121.59 305.75,121.55 306.00,121.51 306.25,121.50 306.50,121.46 306.75,121.40 307.00,121.34 307.25,121.28 307.50,121.23 307.75,121.22 308.00,121.24 308.25,121.26 308.50,121.26 308.75,121.25 309.00,121.27 309.25,121.30 309.50,121.33 309.75,121.32 310.00,121.27 310.25,121.24 310.50,121.27 310.75,121.35 311.00,121.39 311.25,121.37 311.50,121.31 311.75,121.25 312.00,121.24 312.25,121.23 312.50,121.18 312.75,121.06 313.00,120.98 313.25,120.97 313.50,120.99 313.75,121.00 314.00,121.01 314.25,121.03 314.50,121.02 314.75,120.97 315.00,120.87 315.25,120.70 315.50,120.43 315.75,120.04 316.00,119.57 316.25,119.18 316.50,118.96 316.75,118.96 317.00,119.16 317.25,119.54 317.50,120.03 317.75,120.49 318.00,120.80 318.25,120.98 318.50,121.10 318.75,121.21 319.00,121.31 319.25,121.40 319.50,121.45 319.75,121.45 320.00,121.41 320.25,121.36 320.50,121.31 320.75,121.24 321.00,121.18 321.25,121.12 321.50,121.10 321.75,121.10 322.00,121.10 322.25,121.08 322.50,121.05 322.75,121.01 323.00,120.99 323.25,120.98 323.50,120.97 323.75,120.99 324.00,121.03 324.25,121.06 324.50,121.06 324.75,121.03 325.00,121.01 325.25,121.03 325.50,121.06 325.75,121.08 326.00,121.09 326.25,121.11 326.50,121.11 326.75,121.08 327.00,121.06 327.25,121.05 327.50,121.03 327.75,121.02 328.00,121.03 328.25,121.08 328.50,121.11 328.75,121.15 329.00,121.21 329.25,121.26 329.50,121.24 329.75,121.20 330.00,121.20 330.25,121.23 330.50,121.26 330.75,121.26 331.00,121.26 331.25,121.25 331.50,121.26 331.75,121.28 332.00,121.28 332.25,121.25 332.50,121.21 332.75,121.18 333.00,121.13 333.25,121.08 333.50,121.07 333.75,121.08 334.00,121.10 334.25,121.16 334.50,121.27 334.75,121.35 335.00,121.35 335.25,121.28 335.50,121.22 335.75,121.15 336.00,121.07 336.25,121.00 336.50,121.03 336.75,121.09 337.00,121.12 337.25,121.11 337.50,121.13 337.75,121.21 338.00,121.31 338.25,121.38 338.50,121.40 338.75,121.40 339.00,121.41 339.25,121.41 339.50,121.41 339.75,121.41 340.00,121.45 340.25,121.50 340.50,121.50 340.75,121.44 341.00,121.37 341.25,121.34 341.50,121.32 341.75,121.31 342.00,121.30 342.25,121.28 342.50,121.25 342.75,121.23 343.00,121.24 343.25,121.22 343.50,121.14 343.75,121.05 344.00,121.04 344.25,121.10 344.50,121.16 344.75,121.17 345.00,121.13 345.25,121.09 345.50,121.09 345.75,121.10 346.00,121.11 346.25,121.14 346.50,121.20 346.75,121.22 347.00,121.21 347.25,121.16 347.50,121.10 347.75,121.01 348.00,120.91 348.25,120.86 348.50,120.87 348.75,120.89 349.00,120.93 349.25,121.00 349.50,121.06 349.75,121.09 350.00,121.10 350.25,121.11 350.50,121.11 350.75,121.10 351.00,121.11 351.25,121.15 351.50,121.19 351.75,121.20 352.00,121.22 352.25,121.23 352.50,121.17 352.75,121.05 353.00,120.95 353.25,120.92 353.50,120.90 353.75,120.89 354.00,120.94 354.25,121.00 354.50,121.00 354.75,120.99 355.00,120.97 355.25,120.94 355.50,120.87 355.75,120.83 356.00,120.91 356.25,121.05 356.50,121.17 356.75,121.27 357.00,121.34 357.25,121.36 357.50,121.32 357.75,121.24 358.00,121.18 358.25,121.13 358.50,121.09 358.75,121.06 359.00,121.03 359.25,121.03 359.50,121.03 359.75,121.02 360.00,121.02 360.25,121.03 360.50,121.04 360.75,121.04 361.00,121.06 361.25,121.08 361.50,121.14 361.75,121.24 362.00,121.34 362.25,121.35 362.50,121.29 362.75,121.22 363.00,121.20 363.25,121.21 363.50,121.20 363.75,121.16 364.00,121.12 364.25,121.10 364.50,121.07 364.75,121.04 365.00,121.00 365.25,121.01 365.50,121.03 365.75,121.02 366.00,120.99 366.25,121.01 366.50,121.10 366.75,121.20 367.00,121.28 367.25,121.32 367.50,121.32 367.75,121.27 368.00,121.19 368.25,121.10 368.50,121.01 368.75,120.95 369.00,120.91 369.25,120.91 369.50,120.91 369.75,120.90 370.00,120.86 370.25,120.85 370.50,120.83 370.75,120.77 371.00,120.70 371.25,120.73 371.50,120.87 371.75,121.05 372.00,121.15 372.25,121.18 372.50,121.18 372.75,121.14 373.00,121.02 373.25,120.90 373.50,120.84 373.75,120.84 374.00,120.83 374.25,120.80 374.50,120.78 374.75,120.78 375.00,120.82 375.25,120.85 375.50,120.87 375.75,120.85 376.00,120.81 376.25,120.85 376.50,120.95" fill="none" stroke="#ff0000" stroke-width="1.9" stroke-linejoin="round"/>
<line x1="24.0" y1="173.4" x2="376.6" y2="173.4" stroke="#16c987" stroke-width="1.4"/>
<path d="M79.50 173.4 V159.20 M108.80 173.4 V132.20 M158.40 173.4 V163.00 M172.80 173.4 V163.00 M177.50 173.4 V164.30 M188.50 173.4 V163.60 M205.30 173.4 V164.70 M226.90 173.4 V161.10 M229.70 173.4 V165.20 M250.90 173.4 V164.40 M253.50 173.4 V164.40 M263.00 173.4 V165.20 M276.80 173.4 V163.00 M296.80 173.4 V164.70 M306.00 173.4 V165.20 M315.70 173.4 V163.80 M317.30 173.4 V163.30 M318.90 173.4 V163.20 M344.80 173.4 V164.70 M355.90 173.4 V165.20 M365.60 173.4 V165.20 M376.00 173.4 V163.80" stroke="#12d816" stroke-width="1.5" fill="none"/>
<line x1="24.0" y1="215.6" x2="376.6" y2="215.6" stroke="#0a0aff" stroke-width="1.6"/>
<path d="M66.90 215.6 V207.10 M126.80 215.6 V198.70 M153.80 215.6 V180.70 M162.00 215.6 V209.20 M192.40 215.6 V205.10 M244.90 215.6 V208.30 M262.70 215.6 V202.70 M291.20 215.6 V201.40 M333.70 215.6 V209.70 M349.00 215.6 V208.80 M374.50 215.6 V210.20" stroke="#0a0aff" stroke-width="1.6" fill="none"/>
<line x1="24.0" y1="255.0" x2="376.6" y2="255.0" stroke="#ff8516" stroke-width="1.6"/>
<path d="M67.00 255.0 V247.80 M127.30 255.0 V242.10 M154.50 255.0 V223.40 M162.70 255.0 V247.40 M193.40 255.0 V244.00 M214.10 255.0 V248.80 M246.00 255.0 V247.50 M264.10 255.0 V243.30 M292.60 255.0 V240.80 M309.30 255.0 V249.10 M335.60 255.0 V249.10 M351.40 255.0 V247.70 M355.90 255.0 V248.80 M376.00 255.0 V248.80" stroke="#ff8516" stroke-width="1.6" fill="none"/>
<rect x="427.6" y="2.0" width="112.00" height="259.50" fill="none" stroke="#1a1a1a" stroke-width="1.5"/>
<path d="M469.70 261.5 V258.00 M511.80 261.5 V258.00" stroke="#1a1a1a" stroke-width="1.5"/>
<path d="M428.00 122.50 C428.10 122.25 428.27 121.50 428.60 121.00 C428.93 120.50 429.58 119.40 430.00 119.50 C430.42 119.60 430.67 121.07 431.10 121.60 C431.53 122.13 432.12 122.23 432.60 122.70 C433.08 123.17 433.48 123.87 434.00 124.40 C434.52 124.93 435.13 125.42 435.70 125.90 C436.27 126.38 436.83 127.30 437.40 127.30 C437.97 127.30 438.63 125.95 439.10 125.90 C439.57 125.85 439.83 127.05 440.20 127.00 C440.57 126.95 440.92 125.65 441.30 125.60 C441.68 125.55 442.12 126.65 442.50 126.70 C442.88 126.75 443.22 125.80 443.60 125.90 C443.98 126.00 444.32 126.88 444.80 127.30 C445.28 127.72 446.03 128.12 446.50 128.40 C446.97 128.68 447.13 129.28 447.60 129.00 C448.07 128.72 448.73 126.98 449.30 126.70 C449.87 126.42 450.33 127.25 451.00 127.30 C451.67 127.35 452.55 127.05 453.30 127.00 C454.05 126.95 454.55 127.00 455.50 127.00 C456.45 127.00 457.85 127.00 459.00 127.00 C460.15 127.00 461.37 126.95 462.40 127.00 C463.43 127.05 464.45 127.10 465.20 127.30 C465.95 127.50 466.33 128.40 466.90 128.20 C467.47 128.00 468.12 126.92 468.60 126.10 C469.08 125.28 469.42 124.23 469.80 123.30 C470.18 122.37 470.53 121.17 470.90 120.50 C471.27 119.83 471.62 119.30 472.00 119.30 C472.38 119.30 472.82 119.83 473.20 120.50 C473.58 121.17 473.83 122.37 474.30 123.30 C474.77 124.23 475.43 125.43 476.00 126.10 C476.57 126.77 477.23 127.02 477.70 127.30 C478.17 127.58 478.33 127.95 478.80 127.80 C479.27 127.65 480.02 126.48 480.50 126.40 C480.98 126.32 481.32 127.00 481.70 127.30 C482.08 127.60 482.33 128.20 482.80 128.20 C483.27 128.20 483.92 127.45 484.50 127.30 C485.08 127.15 485.63 127.27 486.30 127.30 C486.97 127.33 487.65 127.47 488.50 127.50 C489.35 127.53 490.53 127.77 491.40 127.50 C492.27 127.23 493.03 125.98 493.70 125.90 C494.37 125.82 494.78 126.73 495.40 127.00 C496.02 127.27 496.83 128.02 497.40 127.50 C497.97 126.98 498.38 125.30 498.80 123.90 C499.22 122.50 499.43 120.15 499.90 119.10 C500.37 118.05 501.17 118.13 501.60 117.60 C502.03 117.07 502.18 117.03 502.50 115.90 C502.82 114.77 503.13 112.03 503.50 110.80 C503.87 109.57 504.32 108.68 504.70 108.50 C505.08 108.32 505.47 108.93 505.80 109.70 C506.13 110.47 506.35 111.68 506.70 113.10 C507.05 114.52 507.52 116.63 507.90 118.20 C508.28 119.77 508.53 121.75 509.00 122.50 C509.47 123.25 510.17 122.57 510.70 122.70 C511.23 122.83 511.68 123.02 512.20 123.30 C512.72 123.58 513.23 124.58 513.80 124.40 C514.37 124.22 515.03 122.90 515.60 122.20 C516.17 121.50 516.68 120.30 517.20 120.20 C517.72 120.10 518.22 120.80 518.70 121.60 C519.18 122.40 519.60 124.05 520.10 125.00 C520.60 125.95 521.13 127.07 521.70 127.30 C522.27 127.53 522.87 126.82 523.50 126.40 C524.13 125.98 524.88 124.93 525.50 124.80 C526.12 124.67 526.63 125.38 527.20 125.60 C527.77 125.82 528.33 126.05 528.90 126.10 C529.47 126.15 530.03 125.67 530.60 125.90 C531.17 126.13 531.63 127.18 532.30 127.50 C532.97 127.82 533.85 127.83 534.60 127.80 C535.35 127.77 536.05 127.23 536.80 127.30 C537.55 127.37 538.72 128.05 539.10 128.20" fill="none" stroke="#ff0000" stroke-width="1.9" stroke-linejoin="round"/>
<line x1="426.40000000000003" y1="210.8" x2="538.9" y2="210.8" stroke="#0a0aff" stroke-width="1.6"/>
<path d="M430.20 210.8 V193.20 M505.40 210.8 V175.10 M529.20 210.8 V204.00" stroke="#0a0aff" stroke-width="1.6" fill="none"/>
<line x1="426.40000000000003" y1="249.4" x2="538.9" y2="249.4" stroke="#ff8516" stroke-width="1.6"/>
<path d="M432.40 249.4 V236.20 M508.20 249.4 V218.20 M530.80 249.4 V241.60" stroke="#ff8516" stroke-width="1.6" fill="none"/>
<rect x="564.3" y="3.2" width="111.80" height="259.10" fill="none" stroke="#1a1a1a" stroke-width="1.5"/>
<path d="M609.20 262.3 V258.80" stroke="#1a1a1a" stroke-width="1.5"/>
<path d="M564.90 127.50 C565.17 127.38 565.92 127.07 566.50 126.80 C567.08 126.53 567.75 125.83 568.40 125.90 C569.05 125.97 569.75 126.72 570.40 127.20 C571.05 127.68 571.55 128.32 572.30 128.80 C573.05 129.28 574.13 130.07 574.90 130.10 C575.67 130.13 576.25 129.87 576.90 129.00 C577.55 128.13 578.15 126.13 578.80 124.90 C579.45 123.67 580.22 122.37 580.80 121.60 C581.38 120.83 581.83 120.18 582.30 120.30 C582.77 120.42 583.10 121.32 583.60 122.30 C584.10 123.28 584.68 125.23 585.30 126.20 C585.92 127.17 586.65 127.93 587.30 128.10 C587.95 128.27 588.55 127.20 589.20 127.20 C589.85 127.20 590.48 127.80 591.20 128.10 C591.92 128.40 592.75 128.85 593.50 129.00 C594.25 129.15 594.90 129.25 595.70 129.00 C596.50 128.75 597.53 128.02 598.30 127.50 C599.07 126.98 599.65 125.87 600.30 125.90 C600.95 125.93 601.55 127.18 602.20 127.70 C602.85 128.22 603.55 128.87 604.20 129.00 C604.85 129.13 605.45 128.72 606.10 128.50 C606.75 128.28 607.45 127.83 608.10 127.70 C608.75 127.57 609.37 128.00 610.00 127.70 C610.63 127.40 611.25 126.48 611.90 125.90 C612.55 125.32 613.25 124.77 613.90 124.20 C614.55 123.63 615.15 122.93 615.80 122.50 C616.45 122.07 617.27 121.60 617.80 121.60 C618.33 121.60 618.38 122.28 619.00 122.50 C619.62 122.72 620.75 122.50 621.50 122.90 C622.25 123.30 622.92 124.32 623.50 124.90 C624.08 125.48 624.52 126.73 625.00 126.40 C625.48 126.07 625.97 124.67 626.40 122.90 C626.83 121.13 627.17 117.53 627.60 115.80 C628.03 114.07 628.57 112.72 629.00 112.50 C629.43 112.28 629.78 113.20 630.20 114.50 C630.62 115.80 631.00 118.75 631.50 120.30 C632.00 121.85 632.58 123.37 633.20 123.80 C633.82 124.23 634.43 122.83 635.20 122.90 C635.97 122.97 636.83 123.77 637.80 124.20 C638.77 124.63 639.92 125.13 641.00 125.50 C642.08 125.87 643.28 126.07 644.30 126.40 C645.32 126.73 646.28 127.53 647.10 127.50 C647.92 127.47 648.55 126.63 649.20 126.20 C649.85 125.77 650.42 124.87 651.00 124.90 C651.58 124.93 652.05 125.87 652.70 126.40 C653.35 126.93 654.13 127.92 654.90 128.10 C655.67 128.28 656.58 127.78 657.30 127.50 C658.02 127.22 658.45 126.45 659.20 126.40 C659.95 126.35 661.03 127.20 661.80 127.20 C662.57 127.20 663.15 126.62 663.80 126.40 C664.45 126.18 665.02 125.68 665.70 125.90 C666.38 126.12 667.15 127.33 667.90 127.70 C668.65 128.07 669.38 128.10 670.20 128.10 C671.02 128.10 671.90 127.70 672.80 127.70 C673.70 127.70 675.13 128.03 675.60 128.10" fill="none" stroke="#ff0000" stroke-width="1.9" stroke-linejoin="round"/>
<line x1="563.3" y1="211.5" x2="675.4" y2="211.5" stroke="#0a0aff" stroke-width="1.6"/>
<path d="M637.60 211.5 V200.80" stroke="#0a0aff" stroke-width="1.6" fill="none"/>
<line x1="563.3" y1="250.6" x2="675.4" y2="250.6" stroke="#ff8516" stroke-width="1.6"/>
<path d="M641.90 250.6 V240.10" stroke="#ff8516" stroke-width="1.6" fill="none"/>
<text x="315.3" y="58.3" font-size="16.5" text-anchor="start" >Geo</text>
<text x="315.2" y="116.6" font-size="16.5" text-anchor="start" >Geo-3</text>
<text x="314.0" y="157.6" font-size="16.5" text-anchor="start" >Quartz</text>
<text x="304.5" y="202.6" font-size="16.5"><tspan y="202.6">CuMn</tspan><tspan font-size="11" y="207.6">2</tspan><tspan y="202.6">O</tspan><tspan font-size="11" y="207.6">4</tspan></text>
<text x="316.0" y="242.8" font-size="16.5"><tspan y="242.8">Fe</tspan><tspan font-size="11" y="247.8">2</tspan><tspan y="242.8">O</tspan><tspan font-size="11" y="247.8">3</tspan></text>
<text x="432.5" y="115.0" font-size="16.5" text-anchor="start" >Geo-3</text>
<text x="436.3" y="200.8" font-size="16.5"><tspan y="200.8">CuMn</tspan><tspan font-size="11" y="205.8">2</tspan><tspan y="200.8">O</tspan><tspan font-size="11" y="205.8">4</tspan></text>
<text x="452.5" y="240.8" font-size="16.5"><tspan y="240.8">Fe</tspan><tspan font-size="11" y="245.8">2</tspan><tspan y="240.8">O</tspan><tspan font-size="11" y="245.8">3</tspan></text>
<text x="572.7" y="116.4" font-size="16.5" text-anchor="start" >Geo-3</text>
<text x="566.6" y="200.6" font-size="16.5"><tspan y="200.6">CuMn</tspan><tspan font-size="11" y="205.6">2</tspan><tspan y="200.6">O</tspan><tspan font-size="11" y="205.6">4</tspan></text>
<text x="568.7" y="242.6" font-size="16.5"><tspan y="242.6">Fe</tspan><tspan font-size="11" y="247.6">2</tspan><tspan y="242.6">O</tspan><tspan font-size="11" y="247.6">3</tspan></text>
<text x="24.60" y="277.0" font-size="13" text-anchor="middle" >10</text>
<text x="74.99" y="277.0" font-size="13" text-anchor="middle" >20</text>
<text x="125.37" y="277.0" font-size="13" text-anchor="middle" >30</text>
<text x="175.76" y="277.0" font-size="13" text-anchor="middle" >40</text>
<text x="226.14" y="277.0" font-size="13" text-anchor="middle" >50</text>
<text x="276.53" y="277.0" font-size="13" text-anchor="middle" >60</text>
<text x="326.91" y="277.0" font-size="13" text-anchor="middle" >70</text>
<text x="377.30" y="277.0" font-size="13" text-anchor="middle" >80</text>
<text x="427.5" y="276.3" font-size="13" text-anchor="middle" >30</text>
<text x="469.6" y="276.3" font-size="13" text-anchor="middle" >33</text>
<text x="511.7" y="276.3" font-size="13" text-anchor="middle" >36</text>
<text x="609.0" y="277.2" font-size="13" text-anchor="middle" >42</text>
<text x="676.2" y="277.2" font-size="13" text-anchor="middle" >45</text>
<text x="0" y="0" font-size="17" transform="translate(158.70,303.2) scale(0.92,1)">2θ</text>
<text x="180.80" y="303.2" font-size="17" text-anchor="start" >(degree)</text>
<text x="0" y="0" font-size="17" transform="translate(440.80,303.2) scale(0.92,1)">2θ</text>
<text x="462.90" y="303.2" font-size="17" text-anchor="start" >(degree)</text>
<text x="0" y="0" font-size="17" transform="translate(578.10,303.2) scale(0.92,1)">2θ</text>
<text x="600.20" y="303.2" font-size="17" text-anchor="start" >(degree)</text>
<text x="0" y="0" font-size="21" text-anchor="middle" transform="translate(16.0,136.5) rotate(-90) scale(0.943,1)">Intensity</text>
<text x="0" y="0" font-size="21" text-anchor="middle" transform="translate(418.7,135.8) rotate(-90) scale(0.943,1)">Intensity</text>
<text x="0" y="0" font-size="21" text-anchor="middle" transform="translate(555.7,136.0) rotate(-90) scale(0.943,1)">Intensity</text>
</svg>
</body></html>
